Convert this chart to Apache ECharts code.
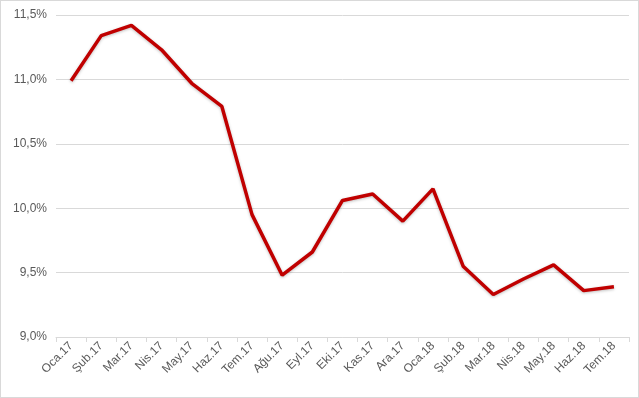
<!DOCTYPE html>
<html>
<head>
<meta charset="utf-8">
<script src="https://cdn.jsdelivr.net/npm/echarts@6/dist/echarts.min.js"></script>
<style>
  html, body { margin: 0; padding: 0; background: #fff; }
  #chart { width: 639px; height: 398px; box-sizing: border-box; border: 1px solid #d9d9d9; }
</style>
</head>
<body>
<div id="chart"></div>
<script>
  // aylar
  var months = ['Oca.17', 'Şub.17', 'Mar.17', 'Nis.17', 'May.17', 'Haz.17', 'Tem.17', 'Ağu.17', 'Eyl.17',
    'Eki.17', 'Kas.17', 'Ara.17', 'Oca.18', 'Şub.18', 'Mar.18', 'Nis.18', 'May.18', 'Haz.18', 'Tem.18'];
  // oran (%)
  var rates = [10.99, 11.34, 11.42, 11.23, 10.97, 10.79, 9.95, 9.48, 9.66,
    10.06, 10.11, 9.90, 10.15, 9.55, 9.33, 9.45, 9.56, 9.36, 9.39];
  var yMin = 9.0, yMax = 11.5, yStep = 0.5;

  var chart = echarts.init(document.getElementById('chart'), null, { renderer: 'canvas' });

  var option = {
    animation: false,
    grid: { left: 55, right: 9, top: 14, bottom: 60 },
    xAxis: {
      type: 'category',
      data: months,
      boundaryGap: true,
      axisLine: { lineStyle: { color: '#d9d9d9', width: 1 } },
      axisTick: { show: true, alignWithLabel: false, length: 5, lineStyle: { color: '#d9d9d9' } },
      axisLabel: {
        rotate: 45, interval: 0, color: '#595959', fontSize: 12,
        fontFamily: 'Liberation Sans', margin: 7
      }
    },
    yAxis: {
      type: 'value',
      min: yMin, max: yMax, interval: yStep,
      axisLine: { show: false },
      axisTick: { show: false },
      splitLine: { lineStyle: { color: '#d9d9d9', width: 1 } },
      axisLabel: {
        color: '#595959', fontSize: 12, fontFamily: 'Liberation Sans', margin: 9,
        formatter: function (v) { return v.toFixed(1).replace('.', ',') + '%'; }
      }
    },
    series: [{
      type: 'line',
      data: rates,
      symbol: 'none',
      lineStyle: { color: '#c00000', width: 3.5, shadowColor: 'rgba(0,0,0,0.25)', shadowBlur: 3, shadowOffsetY: 1 }
    }]
  };

  chart.setOption(option);
</script>
</body>
</html>
